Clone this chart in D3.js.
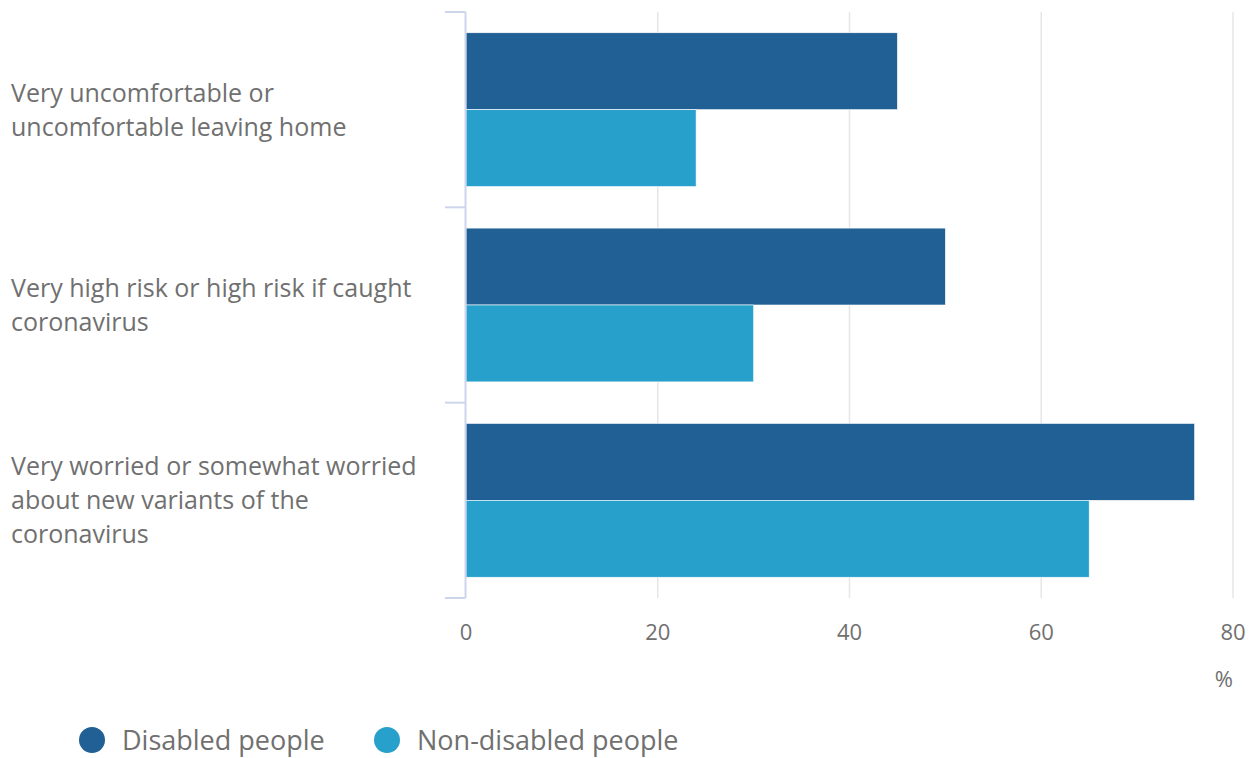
<!DOCTYPE html>
<html>
<head>
<meta charset="utf-8">
<script src="https://cdn.jsdelivr.net/npm/d3@7"></script>
<style>
  body { margin: 0; background: #fff; }
  text { font-family: "Open Sans", sans-serif; fill: #707070; }
</style>
</head>
<body>
<script>
// data from the chart
var categories = [
    "Very uncomfortable or uncomfortable leaving home",
    "Very high risk or high risk if caught coronavirus",
    "Very worried or somewhat worried about new variants of the coronavirus"
];
var seriesNames = ["Disabled people", "Non-disabled people"];
var disabled = [45, 50, 76];
var nonDisabled = [24, 30, 65];
var xTicks = [0, 20, 40, 60, 80];

var colors = ["#206095", "#27a0cc"];

var W = 1257, H = 758;
var margin = { top: 12, right: 24, bottom: 160, left: 466 };
var width = W - margin.left - margin.right,
    height = H - margin.top - margin.bottom;

var svg = d3.select("body").append("svg")
    .attr("width", W)
    .attr("height", H);

var g = svg.append("g")
    .attr("transform", "translate(" + margin.left + "," + margin.top + ")");

var x = d3.scaleLinear().domain([0, 80]).range([0, width]);

var y0 = d3.scaleBand().domain(categories).range([0, height]).padding(0);
var y1 = d3.scaleBand().domain(seriesNames)
    .range([0, y0.bandwidth()])
    .paddingOuter(0.27)
    .paddingInner(0);

var rows = categories.map(function (c, i) {
    return { cat: c, values: [disabled[i], nonDisabled[i]] };
});

// gridlines
g.append("g")
    .selectAll("line")
    .data(xTicks.slice(1))
    .enter().append("line")
    .attr("x1", function (d) { return x(d); })
    .attr("x2", function (d) { return x(d); })
    .attr("y1", 0)
    .attr("y2", height)
    .attr("stroke", "#e6e6e6")
    .attr("stroke-width", 1.5);

// bars
g.append("g")
    .selectAll("g")
    .data(rows)
    .enter().append("g")
    .attr("transform", function (d) { return "translate(0," + y0(d.cat) + ")"; })
    .selectAll("rect")
    .data(function (d) {
        return d.values.map(function (v, j) { return { key: seriesNames[j], value: v, j: j }; });
    })
    .enter().append("rect")
    .attr("x", x(0))
    .attr("y", function (d) { return y1(d.key); })
    .attr("width", function (d) { return x(d.value) - x(0); })
    .attr("height", y1.bandwidth())
    .attr("fill", function (d) { return colors[d.j]; })
    .attr("stroke", "#fff")
    .attr("stroke-width", 0.6);

// category axis line + ticks
var catAxis = g.append("g");
catAxis.append("line")
    .attr("x1", -0.5).attr("x2", -0.5)
    .attr("y1", 0).attr("y2", height)
    .attr("stroke", "#ccd6eb").attr("stroke-width", 2);
catAxis.selectAll("line.tick")
    .data(d3.range(categories.length + 1))
    .enter().append("line")
    .attr("class", "tick")
    .attr("x1", -21).attr("x2", -0.5)
    .attr("y1", function (i) { return i * y0.step(); })
    .attr("y2", function (i) { return i * y0.step(); })
    .attr("stroke", "#ccd6eb").attr("stroke-width", 2);

// category labels, wrapped
var labels = svg.append("g")
    .selectAll("text")
    .data(categories)
    .enter().append("text")
    .attr("font-size", 25)
    .attr("x", 11);

labels.each(function (d) {
    var t = d3.select(this);
    var words = d.split(" "), lines = [], line = [];
    var probe = t.append("tspan");
    words.forEach(function (w) {
        line.push(w);
        probe.text(line.join(" "));
        if (probe.node().getComputedTextLength() > 420 && line.length > 1) {
            line.pop();
            lines.push(line.join(" "));
            line = [w];
        }
    });
    lines.push(line.join(" "));
    probe.remove();
    var lh = 34;
    var cy = margin.top + y0(d) + y0.bandwidth() / 2;
    var startY = cy - (lines.length - 1) * lh / 2 + 9;
    lines.forEach(function (l, k) {
        t.append("tspan").attr("x", 11).attr("y", startY + k * lh).text(l);
    });
});

// x axis labels
g.append("g")
    .selectAll("text")
    .data(xTicks)
    .enter().append("text")
    .attr("x", function (d) { return x(d); })
    .attr("y", height + 42)
    .attr("text-anchor", "middle")
    .attr("font-size", 22)
    .text(function (d) { return d; });

g.append("text")
    .attr("x", width)
    .attr("y", height + 89)
    .attr("text-anchor", "end")
    .attr("font-size", 22)
    .text("%");

// legend
var legendX = [92, 387];
var legend = svg.append("g")
    .selectAll("g")
    .data(seriesNames)
    .enter().append("g")
    .attr("transform", function (d, i) { return "translate(" + legendX[i] + ",740)"; });

legend.append("circle")
    .attr("r", 13)
    .attr("fill", function (d, i) { return colors[i]; });

legend.append("text")
    .attr("x", 30)
    .attr("y", 10)
    .attr("font-size", 27)
    .text(function (d) { return d; });
</script>
</body>
</html>
